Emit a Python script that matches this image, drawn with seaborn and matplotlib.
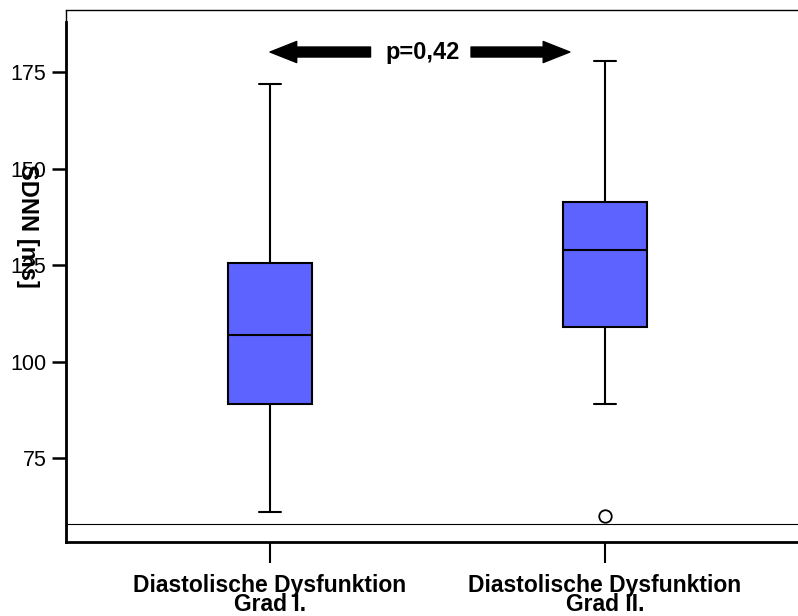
import numpy as np
import pandas as pd
import matplotlib.pyplot as plt
import seaborn as sns

# box statistics (ms)
group_names = ["Diastolische Dysfunktion\nGrad I.", "Diastolische Dysfunktion\nGrad II."]
grad1_values = [61, 89, 89, 107, 107, 107, 125.6, 125.6, 172]
grad2_values = [60, 89, 109, 109, 129, 141.5, 141.5, 178, 178]
p_text = "p=0,42"
y_ticks = [75, 100, 125, 150, 175]

df = pd.DataFrame({
    "Gruppe": [group_names[0]] * len(grad1_values) + [group_names[1]] * len(grad2_values),
    "SDNN": grad1_values + grad2_values,
})

sns.set_style("white")
plt.rcParams["font.family"] = ["Liberation Sans", "DejaVu Sans"]
plt.rcParams["text.color"] = "black"
plt.rcParams["axes.labelcolor"] = "black"
plt.rcParams["xtick.color"] = "black"
plt.rcParams["ytick.color"] = "black"

fig = plt.figure(figsize=(7.98, 6.16), dpi=100)
ax = fig.add_axes([66 / 798, 74 / 616, 732 / 798, 532 / 616])

sns.boxplot(data=df, x="Gruppe", y="SDNN", order=group_names, ax=ax,
            color="#5c63fe", saturation=1, width=0.25, linecolor="black",
            linewidth=1.5, capwidths=0.066,
            flierprops=dict(marker="o", markerfacecolor="white",
                            markeredgecolor="black", markersize=9, markeredgewidth=1.3))

ax.set_xlim(-0.609, 1.576)
ax.set_ylim(53.2, 191.2)
ax.set_yticks(y_ticks)
ax.tick_params(axis="y", direction="out", length=10, width=1.8, labelsize=15.5, pad=4, left=True)
ax.tick_params(axis="x", direction="out", length=15, width=1.5, pad=8, bottom=True)
for lbl in ax.get_xticklabels():
    lbl.set_fontweight("bold")
    lbl.set_fontsize(16.5)
    lbl.set_linespacing(0.78)
ax.set_xlabel("")

ax.set_ylabel("SDNN [ms]", rotation=270, fontsize=17, fontweight="bold",
              va="center", ha="center")
ax.yaxis.set_label_coords(-0.052, 0.594)

for side in ["left", "bottom"]:
    ax.spines[side].set_color("black")
    ax.spines[side].set_linewidth(2)
ax.spines["left"].set_bounds(53.2, 188)
ax.spines["top"].set_color("black")
ax.spines["top"].set_linewidth(1)
ax.spines["right"].set_visible(False)
ax.plot([0, 0], [0, 1], transform=ax.transAxes, color="black", lw=1, clip_on=False)
ax.axhline(57.9, color="black", lw=0.8)

arrow_y = 180.3
arrow_style = "simple,head_length=1.2,head_width=0.95,tail_width=0.45"
ax.annotate("", xy=(0.0, arrow_y), xytext=(0.3, arrow_y),
            arrowprops=dict(arrowstyle=arrow_style, color="black",
                            shrinkA=0, shrinkB=0, mutation_scale=16))
ax.annotate("", xy=(0.895, arrow_y), xytext=(0.6, arrow_y),
            arrowprops=dict(arrowstyle=arrow_style, color="black",
                            shrinkA=0, shrinkB=0, mutation_scale=16))
ax.text(0.455, arrow_y, p_text, ha="center", va="center", fontsize=17, fontweight="bold")

plt.savefig("out.png", dpi=100)
plt.close()
